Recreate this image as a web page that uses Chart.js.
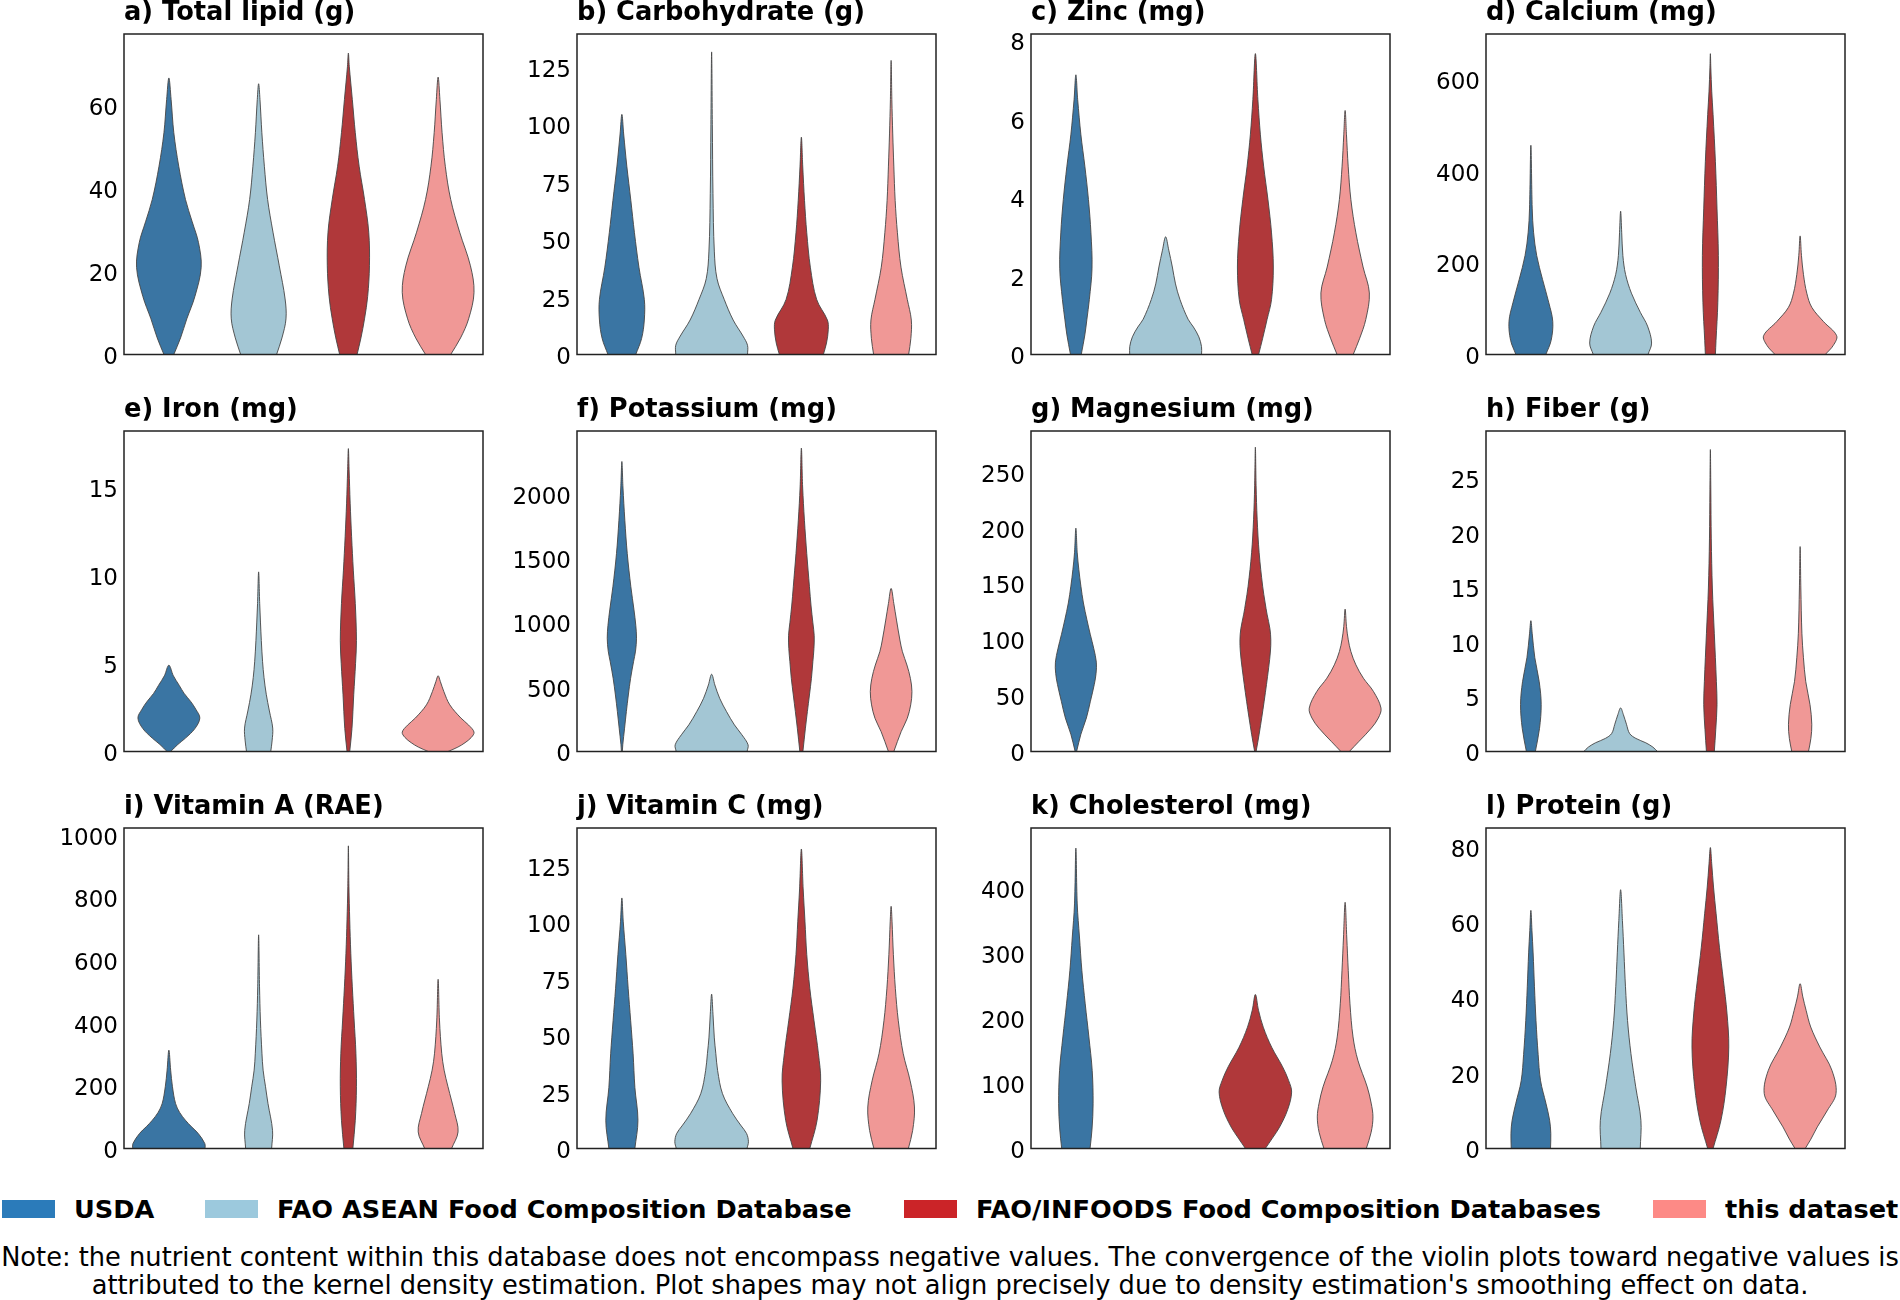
<!DOCTYPE html>
<html>
<head>
<meta charset="utf-8">
<script src="https://cdn.jsdelivr.net/npm/chart.js@4.4.1/dist/chart.umd.min.js"></script>
<style>
    body { margin: 0; background: #fff; font-family: "DejaVu Sans", sans-serif; }
    #page { position: relative; width: 1900px; height: 1300px; overflow: hidden; background: #fff; }
    canvas.panel { position: absolute; }
    .legend-item { position: absolute; top: 1195px; height: 28px; display: flex; align-items: center;
        font-weight: bold; font-size: 25.6px; white-space: nowrap; color: #000; }
    .swatch { width: 53px; height: 18px; margin-right: 19px; flex: none; }
    #note { position: absolute; left: 0; top: 1243px; width: 1900px; text-align: center;
        font-size: 25.7px; line-height: 28px; white-space: nowrap; color: #000; }
</style>
</head>
<body>
<div id="page">
    <div id="legend"></div>
    <div id="note">Note: the nutrient content within this database does not encompass negative values. The convergence of the violin plots toward negative values is<br>attributed to the kernel density estimation. Plot shapes may not align precisely due to density estimation's smoothing effect on data.</div>
</div>
<script>
// sources, in the order the violins are drawn in every panel
const sources = ['USDA', 'FAO ASEAN Food Composition Database', 'FAO/INFOODS Food Composition Databases', 'this dataset'];
const violinColors = ['#3a75a3', '#a3c6d4', '#b0383a', '#f09896'];
const legendColors = ['#2b7bba', '#9cc9dd', '#cb2428', '#fd8a86'];

const titles = ['a) Total lipid (g)', 'b) Carbohydrate (g)', 'c) Zinc (mg)', 'd) Calcium (mg)',
    'e) Iron (mg)', 'f) Potassium (mg)', 'g) Magnesium (mg)', 'h) Fiber (g)',
    'i) Vitamin A (RAE)', 'j) Vitamin C (mg)', 'k) Cholesterol (mg)', 'l) Protein (g)'];
const yMax = [77.3, 139.5, 8.17, 700, 18.2, 2490, 287, 29.4, 1023, 142, 494, 85.2];
const yStep = [20, 25, 2, 200, 5, 500, 50, 5, 200, 25, 100, 20];

// violin outlines: [value, half width in category units], bottom to tip
const lipid = [
    [[0, 0.055], [4, 0.13], [8.6, 0.2], [14, 0.29], [21, 0.36], [27, 0.33], [32, 0.26], [37.4, 0.185], [45.4, 0.11], [53.5, 0.055], [61.5, 0.025], [66.7, 0]],
    [[0, 0.2], [4, 0.26], [8.6, 0.305], [13.4, 0.295], [21.4, 0.23], [29.5, 0.16], [37.4, 0.1], [45.4, 0.064], [53.5, 0.036], [61.5, 0.015], [65.3, 0]],
    [[0, 0.097], [4, 0.14], [8.6, 0.18], [14, 0.215], [21.4, 0.235], [29.5, 0.227], [37.4, 0.18], [45.4, 0.12], [53.5, 0.077], [61.5, 0.044], [69.5, 0.01], [72.7, 0]],
    [[0, 0.14], [4, 0.25], [8.6, 0.34], [15, 0.4], [21.4, 0.36], [29.5, 0.24], [37.4, 0.14], [45.4, 0.08], [53.5, 0.044], [61.5, 0.02], [66.9, 0]]
];
const carbohydrate = [
    [[0, 0.155], [7, 0.22], [15, 0.25], [24, 0.25], [38, 0.19], [53, 0.14], [67, 0.1], [82, 0.055], [96, 0.02], [104.5, 0]],
    [[0, 0.4], [4, 0.4], [8, 0.35], [15, 0.24], [24, 0.14], [33, 0.06], [45, 0.03], [70, 0.015], [100, 0.008], [131.7, 0]],
    [[0, 0.245], [5, 0.28], [11, 0.3], [15, 0.29], [24, 0.17], [38, 0.1], [53, 0.06], [67, 0.035], [82, 0.015], [94.6, 0]],
    [[0, 0.195], [7, 0.22], [15, 0.225], [24, 0.18], [38, 0.11], [53, 0.07], [67, 0.045], [82, 0.03], [96, 0.018], [111, 0.008], [128, 0]]
];
const zinc = [
    [[0, 0.06], [0.5, 0.1], [0.9, 0.123], [1.4, 0.15], [2.2, 0.18], [3.1, 0.168], [3.95, 0.14], [4.8, 0.1], [5.6, 0.056], [6.5, 0.02], [7.13, 0]],
    [[0, 0.4], [0.2, 0.4], [0.45, 0.37], [0.7, 0.31], [0.9, 0.25], [1.4, 0.16], [1.8, 0.11], [2.23, 0.075], [2.66, 0.035], [3.0, 0]],
    [[0, 0.036], [0.4, 0.08], [0.89, 0.13], [1.4, 0.18], [2.23, 0.2], [3.1, 0.18], [3.95, 0.14], [4.8, 0.092], [5.6, 0.056], [6.5, 0.028], [7.67, 0]],
    [[0, 0.09], [0.4, 0.16], [0.89, 0.23], [1.57, 0.27], [2.23, 0.2], [3.1, 0.12], [3.95, 0.064], [4.8, 0.034], [5.6, 0.015], [6.22, 0]]
];
const calcium = [
    [[0, 0.167], [31, 0.226], [72, 0.244], [113, 0.2], [164, 0.13], [216, 0.065], [267, 0.03], [318, 0.015], [457, 0]],
    [[0, 0.305], [25, 0.345], [62, 0.3], [92, 0.22], [134, 0.12], [175, 0.055], [216, 0.025], [267, 0.012], [313, 0]],
    [[0, 0.056], [31, 0.063], [113, 0.083], [216, 0.089], [318, 0.074], [421, 0.056], [524, 0.03], [575, 0.015], [626, 0.005], [657, 0]],
    [[0, 0.28], [20, 0.37], [41, 0.407], [72, 0.26], [103, 0.13], [134, 0.074], [175, 0.037], [216, 0.015], [259, 0]]
];
const iron = [
    [[0, 0.02], [0.4, 0.1], [0.76, 0.185], [1.3, 0.29], [1.9, 0.345], [2.4, 0.3], [2.84, 0.243], [3.3, 0.17], [3.75, 0.116], [4.3, 0.05], [4.9, 0]],
    [[0, 0.135], [0.6, 0.15], [1.33, 0.157], [2.3, 0.12], [3.25, 0.085], [4.2, 0.06], [5.1, 0.044], [6.3, 0.03], [8.4, 0.012], [10.2, 0]],
    [[0, 0.015], [1.3, 0.04], [3.25, 0.06], [5, 0.08], [6.3, 0.09], [8.4, 0.077], [10.3, 0.055], [12.2, 0.036], [14.1, 0.02], [16, 0.008], [17.2, 0]],
    [[0, 0.11], [0.25, 0.22], [0.5, 0.3], [0.8, 0.37], [1.1, 0.4], [1.5, 0.34], [1.9, 0.254], [2.65, 0.13], [3.4, 0.064], [3.97, 0.025], [4.3, 0]]
];
const potassium = [
    [[0, 0.005], [52, 0.01], [181, 0.03], [310, 0.05], [439, 0.072], [568, 0.097], [698, 0.13], [780, 0.152], [880, 0.163], [980, 0.155], [1100, 0.135], [1280, 0.1], [1538, 0.06], [1796, 0.033], [2055, 0.012], [2253, 0]],
    [[0, 0.395], [52, 0.406], [130, 0.337], [207, 0.254], [310, 0.166], [413, 0.09], [517, 0.036], [600, 0]],
    [[0, 0.017], [181, 0.045], [310, 0.067], [439, 0.09], [568, 0.112], [698, 0.128], [800, 0.14], [900, 0.143], [1000, 0.128], [1130, 0.108], [1280, 0.09], [1538, 0.06], [1796, 0.034], [2055, 0.014], [2357, 0]],
    [[0, 0.03], [155, 0.112], [258, 0.18], [362, 0.218], [465, 0.232], [568, 0.215], [672, 0.176], [775, 0.126], [866, 0.098], [1021, 0.06], [1150, 0.03], [1267, 0]]
];
const magnesium = [
    [[0, 0.008], [15.5, 0.056], [30, 0.117], [45, 0.162], [60, 0.205], [70, 0.225], [80, 0.228], [92, 0.2], [105, 0.16], [118, 0.123], [133, 0.084], [148, 0.056], [163, 0.033], [178, 0.015], [200, 0]],
    null,
    [[0, 0.008], [15.5, 0.042], [45, 0.098], [75, 0.148], [90, 0.168], [100, 0.172], [110, 0.162], [123, 0.13], [133, 0.109], [148, 0.081], [178, 0.042], [208, 0.02], [238, 0.008], [272.5, 0]],
    [[0, 0.047], [9, 0.154], [21, 0.293], [30, 0.37], [38.8, 0.4], [53.7, 0.316], [65.6, 0.204], [77.6, 0.12], [89.5, 0.064], [100, 0.035], [112, 0.015], [127.5, 0]]
];
const fiber = [
    [[0, 0.05], [2.1, 0.096], [4.3, 0.115], [6.4, 0.093], [8.6, 0.044], [10.8, 0.015], [12, 0]],
    [[0, 0.41], [0.4, 0.36], [0.8, 0.28], [1.2, 0.17], [1.65, 0.1], [2.5, 0.065], [3.4, 0.03], [4.0, 0]],
    [[0, 0.044], [2, 0.06], [4.3, 0.074], [6.4, 0.067], [10.8, 0.044], [15, 0.022], [19.5, 0.01], [24, 0.005], [27.7, 0]],
    [[0, 0.093], [1.2, 0.12], [2.5, 0.13], [4.3, 0.11], [6.4, 0.063], [8.6, 0.037], [10.8, 0.02], [15, 0.008], [18.8, 0]]
];
const vitaminA = [
    [[0, 0.404], [16, 0.4], [48, 0.327], [70, 0.25], [90, 0.185], [115, 0.12], [144, 0.074], [197, 0.04], [250, 0.02], [314, 0]],
    [[0, 0.145], [58, 0.155], [144, 0.104], [197, 0.077], [250, 0.05], [304, 0.037], [410, 0.02], [516, 0.01], [682, 0]],
    [[0, 0.05], [90, 0.077], [197, 0.09], [304, 0.084], [410, 0.064], [516, 0.044], [623, 0.027], [730, 0.015], [836, 0.006], [966, 0]],
    [[0, 0.15], [53, 0.222], [112, 0.185], [197, 0.11], [250, 0.067], [304, 0.04], [410, 0.015], [540, 0]]
];
const vitaminC = [
    [[0, 0.145], [12.5, 0.179], [27, 0.145], [42, 0.125], [56.6, 0.098], [71, 0.07], [86, 0.044], [100.7, 0.015], [111, 0]],
    [[0, 0.394], [3, 0.41], [6.6, 0.39], [10, 0.33], [15.4, 0.236], [24.3, 0.121], [34.5, 0.067], [42, 0.047], [49, 0.03], [59.5, 0.015], [68.4, 0]],
    [[0, 0.094], [12.5, 0.175], [30, 0.215], [42, 0.19], [56.6, 0.141], [71, 0.094], [86, 0.06], [100.7, 0.04], [115, 0.02], [132.7, 0]],
    [[0, 0.192], [8, 0.24], [18.4, 0.26], [30, 0.212], [42, 0.135], [56.6, 0.08], [71, 0.047], [86, 0.025], [100.7, 0.01], [107.3, 0]]
];
const cholesterol = [
    [[0, 0.158], [30, 0.18], [69, 0.192], [120, 0.182], [172, 0.145], [223, 0.104], [274, 0.067], [326, 0.04], [377, 0.015], [463, 0]],
    null,
    [[0, 0.111], [16, 0.19], [33, 0.27], [60, 0.36], [87, 0.404], [105, 0.37], [126, 0.303], [156, 0.182], [187, 0.088], [213, 0.035], [237.4, 0]],
    [[0, 0.236], [25, 0.29], [48.7, 0.31], [70, 0.29], [95, 0.246], [136, 0.142], [172, 0.088], [223, 0.054], [274, 0.035], [326, 0.018], [379.5, 0]]
];
const protein = [
    [[0, 0.219], [4, 0.222], [7.5, 0.209], [12, 0.168], [18, 0.108], [25, 0.081], [34, 0.057], [43, 0.04], [52, 0.025], [58, 0.012], [63.3, 0]],
    [[0, 0.219], [7.5, 0.226], [16.4, 0.168], [25.2, 0.115], [34, 0.077], [43, 0.054], [52, 0.037], [60.6, 0.02], [68.8, 0]],
    [[0, 0.03], [7.5, 0.118], [16.4, 0.175], [27, 0.205], [36, 0.185], [44.7, 0.145], [53.5, 0.101], [62.4, 0.064], [69.5, 0.035], [75.7, 0.015], [80, 0]],
    [[0, 0.057], [2.5, 0.12], [5.75, 0.192], [10, 0.3], [14.6, 0.4], [20.8, 0.354], [27, 0.219], [32.3, 0.118], [36.7, 0.067], [40.3, 0.03], [43.8, 0]]
];

const panels = [lipid, carbohydrate, zinc, calcium, iron, potassium, magnesium, fiber,
    vitaminA, vitaminC, cholesterol, protein];

// page layout (plot box of each panel)
const boxLeft = [123.5, 577, 1030.5, 1485.5];
const boxTop = [34.3, 431, 827.7];
const boxW = 359, boxH = 320.5;
const axisW = 95, titleH = 36, padR = 6, padB = 20.5;

const framePlugin = {
    id: 'frame',
    afterDatasetsDraw(chart) {
        const { ctx, chartArea: a } = chart;
        ctx.save();
        ctx.strokeStyle = '#222';
        ctx.lineWidth = 1.5;
        ctx.strokeRect(a.left, a.top, a.right - a.left, a.bottom - a.top);
        ctx.restore();
    }
};

// outline of one violin: up the left side, back down the right side
function violinPoints(profile, slot) {
    const left = profile.map(([v, w]) => ({ x: slot - w, y: v }));
    const right = profile.slice().reverse()
        .filter((p, k) => !(k === 0 && p[1] === 0))
        .map(([v, w]) => ({ x: slot + w, y: v }));
    return left.concat(right);
}

function drawPanel(idx) {
    const col = idx % 4, row = Math.floor(idx / 4);
    const canvas = document.createElement('canvas');
    canvas.className = 'panel';
    canvas.width = axisW + boxW + padR;
    canvas.height = titleH + boxH + padB;
    canvas.style.left = (boxLeft[col] - axisW) + 'px';
    canvas.style.top = (boxTop[row] - titleH) + 'px';
    canvas.style.width = canvas.width + 'px';
    canvas.style.height = canvas.height + 'px';
    document.getElementById('page').appendChild(canvas);

    const datasets = [];
    panels[idx].forEach((profile, i) => {
        if (!profile) return;
        datasets.push({
            label: sources[i],
            data: violinPoints(profile, i),
            showLine: true,
            fill: 'shape',
            backgroundColor: violinColors[i],
            borderColor: 'rgba(70, 70, 70, 0.9)',
            borderWidth: 1,
            pointRadius: 0,
            pointHitRadius: 0,
            tension: 0.35
        });
    });

    new Chart(canvas.getContext('2d'), {
        type: 'scatter',
        data: { datasets: datasets },
        options: {
            responsive: false,
            animation: false,
            devicePixelRatio: 1,
            events: [],
            layout: { padding: { top: 0, left: 0, right: padR, bottom: canvas.height - titleH - boxH } },
            plugins: {
                legend: { display: false },
                tooltip: { enabled: false },
                title: {
                    display: true,
                    text: titles[idx],
                    align: 'start',
                    fullSize: false,
                    color: '#000',
                    font: { family: 'DejaVu Sans', size: 25.7, weight: 'bold', lineHeight: 1.2 },
                    padding: { top: 0, bottom: titleH - 25.7 * 1.2 }
                }
            },
            scales: {
                x: { type: 'linear', min: -0.5, max: 3.5, display: false },
                y: {
                    min: 0,
                    max: yMax[idx],
                    grid: { display: false, drawTicks: false },
                    border: { display: false },
                    ticks: {
                        color: '#000',
                        padding: 6,
                        labelOffset: 3.5,
                        font: { family: 'DejaVu Sans', size: 23 },
                        callback: v => String(v)
                    },
                    afterBuildTicks(scale) {
                        const ticks = [];
                        for (let v = 0; v <= yMax[idx] + 1e-9; v += yStep[idx]) ticks.push({ value: v });
                        scale.ticks = ticks;
                    },
                    afterFit(scale) { scale.width = axisW; }
                }
            }
        },
        plugins: [framePlugin]
    });
}

function buildLegend() {
    const swatchLeft = [2, 205, 904, 1653];
    const legend = document.getElementById('legend');
    sources.forEach((name, i) => {
        const item = document.createElement('div');
        item.className = 'legend-item';
        item.style.left = swatchLeft[i] + 'px';
        const sw = document.createElement('span');
        sw.className = 'swatch';
        sw.style.background = legendColors[i];
        const label = document.createElement('span');
        label.textContent = name;
        item.appendChild(sw);
        item.appendChild(label);
        legend.appendChild(item);
    });
}

for (let i = 0; i < panels.length; i++) {
    drawPanel(i);
}
buildLegend();
</script>
</body>
</html>
